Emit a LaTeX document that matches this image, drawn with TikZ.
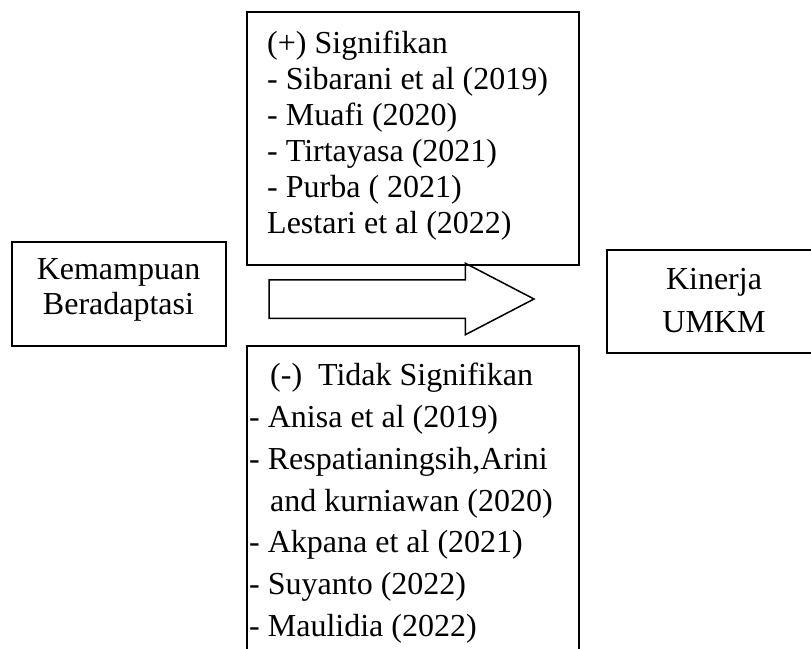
\documentclass[tikz,border=0pt]{standalone}
\usepackage{fontspec}
\setmainfont{Liberation Serif}
\usetikzlibrary{shapes.arrows}
\begin{document}
\begin{tikzpicture}[x=1pt,y=-1pt,
  kotak/.style={draw,line width=1.5pt,inner sep=0pt,outer sep=0pt,anchor=north west},
  panah/.style={draw,line width=1.5pt,single arrow,inner xsep=0pt,inner ysep=18.5pt,
    outer sep=0pt,minimum height=265pt,single arrow head extend=16.5pt,
    single arrow tip angle=55,anchor=tail},
  teks/.style={anchor=base west,inner sep=0pt,font=\fontsize{32}{36}\selectfont},
  tengah/.style={anchor=base,inner sep=0pt,font=\fontsize{32}{36}\selectfont}]
\useasboundingbox (0,0) rectangle (811,648);
\clip (0,0) rectangle (811,648);

% kotak
\node[kotak,minimum width=332pt,minimum height=253pt] (sig) at (247,12) {};
\node[kotak,minimum width=214pt,minimum height=104pt] (adaptasi) at (12,242) {};
\node[kotak,minimum width=230pt,minimum height=103pt] (kinerja) at (607,250) {};
\node[kotak,minimum width=332pt,minimum height=330pt] (tidaksig) at (247,346) {};

% panah
\node[panah] (arah) at (269,299) {};

\node[tengah] (ad1) at (118.5,279) {Kemampuan};
\node[tengah] (ad2) at (118.5,314) {Beradaptasi};

\node[tengah] (ki1) at (714,289) {Kinerja};
\node[tengah] (ki2) at (714,332) {UMKM};

\node[teks] (s0) at (267,53) {(+) Signifikan};
\node[teks] (s1) at (267,89) {- Sibarani et al (2019)};
\node[teks] (s2) at (267,125) {- Muafi (2020)};
\node[teks] (s3) at (267,161) {- Tirtayasa (2021)};
\node[teks] (s4) at (267,197) {- Purba ( 2021)};
\node[teks] (s5) at (267,233) {Lestari et al (2022)};

\node[teks] (t0) at (270,385) {(-)\ \ Tidak Signifikan};
\node[teks] (t1) at (249,427) {- Anisa et al (2019)};
\node[teks] (t2) at (249,469) {- Respatianingsih,Arini};
\node[teks] (t3) at (270,511) {and kurniawan (2020)};
\node[teks] (t4) at (249,552) {- Akpana et al (2021)};
\node[teks] (t5) at (249,594) {- Suyanto (2022)};
\node[teks] (t6) at (249,636) {- Maulidia (2022)};
\end{tikzpicture}
\end{document}
